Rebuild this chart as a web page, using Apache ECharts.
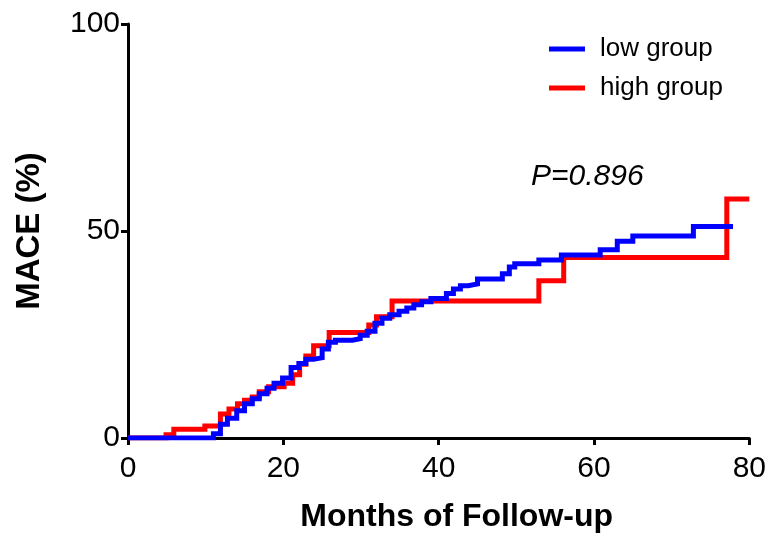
<!DOCTYPE html>
<html>
<head>
<meta charset="utf-8">
<script src="https://cdn.jsdelivr.net/npm/echarts@6/dist/echarts.min.js"></script>
<style>
  html, body { margin: 0; padding: 0; background: #fff; }
  #chart { width: 769px; height: 538px; }
</style>
</head>
<body>
<div id="chart"></div>
<script>
// event times (months) and cumulative MACE (%) after each step
var lowTimes = [0, 11, 11.9, 12.8, 14, 15, 16, 16.9, 17.9, 18.8, 19.9, 21, 22, 22.9, 23.9, 25, 25.8, 26.7, 28.9, 29.9, 30.8, 31.8, 32.7, 33.7, 34.9, 35.9, 36.8, 37.8, 39, 41, 41.9, 42.8, 43.8, 45, 48.2, 49.1, 49.8, 52.9, 55.8, 60.8, 63, 65, 72.8, 77.9];
var lowValues = [0, 1, 3.3, 4.8, 6.6, 8.3, 9.5, 10.7, 12, 13.2, 14.5, 17, 18, 19, 19.4, 21.5, 23.1, 23.6, 24, 24.8, 25.8, 27.7, 28.9, 29.8, 30.6, 31.4, 32.2, 32.9, 33.7, 34.9, 36, 36.8, 37.2, 38.4, 39.7, 41.3, 42.1, 43, 44.2, 45.5, 47.5, 48.8, 51.1, 51.1];
var highTimes = [0, 4.9, 5.9, 9.9, 11.9, 13, 14.1, 15, 16, 16.9, 18.1, 20.1, 21.2, 22.1, 22.9, 23.9, 25.9, 31, 32, 34, 52.9, 56.1, 77.1, 80];
var highValues = [0, 0.8, 2.1, 2.9, 5.8, 7, 8.3, 9.1, 9.9, 11.2, 12.4, 13.2, 15.3, 17.8, 19.8, 22.3, 25.5, 27.3, 29.3, 33.1, 38, 43.6, 57.7, 57.7];
var xTicks = [0, 20, 40, 60, 80];
var yTicks = [0, 50, 100];
var pText = 'P=0.896';

function pairs(xs, ys) {
  var out = [];
  for (var i = 0; i < xs.length; i++) out.push([xs[i], ys[i]]);
  return out;
}

var font = 'Liberation Sans, Arial, sans-serif';
var axisLine = { show: true, onZero: false, lineStyle: { color: '#000', width: 3 } };
var axisTick = { show: true, inside: false, length: 7, lineStyle: { color: '#000', width: 3 } };

var option = {
  animation: false,
  backgroundColor: '#fff',
  grid: { left: 128, right: 18, top: 24, bottom: 99 },
  legend: {
    orient: 'vertical',
    left: 544,
    top: 31,
    itemWidth: 36,
    itemHeight: 5,
    itemGap: 13,
    icon: 'rect',
    textStyle: { fontFamily: font, fontSize: 26, color: '#000', lineHeight: 26, padding: [0, 0, 0, 10] },
    data: ['low group', 'high group']
  },
  xAxis: {
    type: 'value',
    min: 0, max: 80, interval: 20,
    name: 'Months of Follow-up',
    nameLocation: 'middle',
    nameGap: 63,
    nameTextStyle: { fontFamily: font, fontSize: 32, fontWeight: 'bold', color: '#000', padding: [0, 0, 0, 36] },
    axisLine: axisLine,
    axisTick: axisTick,
    splitLine: { show: false },
    axisLabel: {
      fontFamily: font, fontSize: 30, color: '#000', margin: 16,
      formatter: function (v) { return xTicks.indexOf(v) >= 0 ? String(v) : ''; }
    }
  },
  yAxis: {
    type: 'value',
    min: 0, max: 100, interval: 50,
    name: 'MACE (%)',
    nameLocation: 'middle',
    nameGap: 82,
    nameTextStyle: { fontFamily: font, fontSize: 33, fontWeight: 'bold', color: '#000' },
    axisLine: axisLine,
    axisTick: axisTick,
    splitLine: { show: false },
    axisLabel: {
      fontFamily: font, fontSize: 30, color: '#000', margin: 8,
      formatter: function (v) { return yTicks.indexOf(v) >= 0 ? String(v) : ''; }
    }
  },
  graphic: [{
    type: 'text',
    left: 531,
    top: 162,
    style: { text: pText, font: 'italic 30px ' + font, fill: '#000' }
  }],
  series: [
    {
      name: 'high group',
      type: 'line',
      step: 'end',
      showSymbol: false,
      color: '#ff0000',
      lineStyle: { color: '#ff0000', width: 5, join: 'miter', cap: 'butt' },
      data: pairs(highTimes, highValues)
    },
    {
      name: 'low group',
      type: 'line',
      step: 'end',
      showSymbol: false,
      color: '#0000ff',
      lineStyle: { color: '#0000ff', width: 5, join: 'miter', cap: 'butt' },
      data: pairs(lowTimes, lowValues)
    }
  ]
};

var myChart = echarts.init(document.getElementById('chart'));
myChart.setOption(option);
</script>
</body>
</html>
